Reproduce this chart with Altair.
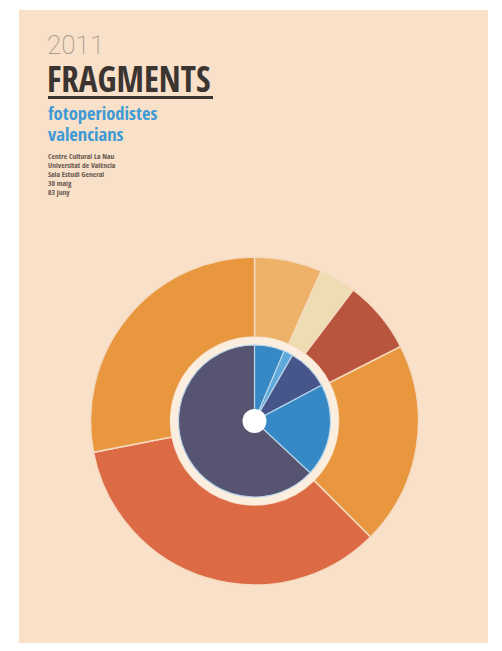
import math
import altair as alt
import pandas as pd

# ---- data ----
outer_cats = ["o1", "o2", "o3", "o4", "o5", "o6"]
outer_vals = [24, 13, 26, 72, 124, 101]
outer_colors = ["#EDB267", "#EEDCB2", "#B9553F", "#E8973F", "#DC6A45", "#E8973F"]

inner_cats = ["i1", "i2", "i3", "i4", "i5"]
inner_vals = [23, 7, 32, 71, 227]
inner_colors = ["#3689C5", "#5DA9DC", "#46558A", "#3689C5", "#575471"]

year_text = "2011"
title_text = "FRAGMENTS"
subtitle_lines = ["fotoperiodistes", "valencians"]
info_lines = ["Centre Cultural La Nau", "Universitat de València",
              "Sala Estudi General", "30 maig", "03 juny"]

# ---- layout ----
W, H = 486, 635
CX, CY = 246.5, 413
BG = "#F8E0C9"
TAU = 2 * math.pi
NARROW = "Open Sans Condensed, Roboto Condensed, DejaVu Sans Condensed, sans-serif"

one = pd.DataFrame({"k": [0]})

bg = alt.Chart(one).mark_rect(color=BG).encode(
    x=alt.value(11), x2=alt.value(480), y=alt.value(2), y2=alt.value(H)
)

outer_df = pd.DataFrame({"cat": outer_cats, "value": outer_vals,
                         "idx": list(range(len(outer_cats)))})
outer = alt.Chart(outer_df).mark_arc(
    radius=164, radius2=84, stroke="#F6DAC0", strokeWidth=1.5
).encode(
    theta=alt.Theta("value:Q", stack=True),
    order=alt.Order("idx:Q"),
    color=alt.Color("cat:N", scale=alt.Scale(domain=outer_cats, range=outer_colors), legend=None),
    x=alt.value(CX), y=alt.value(CY),
)

ring = alt.Chart(one).mark_arc(
    radius=84, radius2=74, theta=0, theta2=TAU, color="#FCEEDF"
).encode(x=alt.value(CX), y=alt.value(CY))

inner_df = pd.DataFrame({"cat": inner_cats, "value": inner_vals,
                         "idx": list(range(len(inner_cats)))})
inner = alt.Chart(inner_df).mark_arc(
    radius=76, radius2=0, stroke="#B9D6EA", strokeWidth=1.2
).encode(
    theta=alt.Theta("value:Q", stack=True),
    order=alt.Order("idx:Q"),
    color=alt.Color("cat:N", scale=alt.Scale(domain=inner_cats, range=inner_colors), legend=None),
    x=alt.value(CX), y=alt.value(CY),
)

hole = alt.Chart(one).mark_arc(
    radius=12, theta=0, theta2=TAU, color="#FFFFFF"
).encode(x=alt.value(CX), y=alt.value(CY))

year = alt.Chart(one).mark_text(
    text=year_text, align="left", baseline="alphabetic", font="Roboto",
    fontSize=26, fontWeight=200, color="#AE9D90"
).encode(x=alt.value(39), y=alt.value(46))

title = alt.Chart(one).mark_text(
    text=title_text, align="left", baseline="alphabetic", font=NARROW,
    fontSize=35, fontWeight="bold", color="#3B3431"
).encode(x=alt.value(39), y=alt.value(84))

underline = alt.Chart(one).mark_rule(color="#3B3431", strokeWidth=3).encode(
    x=alt.value(40), x2=alt.value(205), y=alt.value(89.5)
)

subs = [
    alt.Chart(one).mark_text(
        text=t, align="left", baseline="alphabetic", font=NARROW,
        fontSize=18.5, fontWeight="bold", color="#3E9AD5"
    ).encode(x=alt.value(40), y=alt.value(112 + 21 * i))
    for i, t in enumerate(subtitle_lines)
]

info_y = [151, 160, 169, 178, 187]
infos = [
    alt.Chart(one).mark_text(
        text=t, align="left", baseline="alphabetic", font=NARROW,
        fontSize=7.5, fontWeight="bold", color="#66564C"
    ).encode(x=alt.value(40), y=alt.value(info_y[i]))
    for i, t in enumerate(info_lines)
]

chart = alt.layer(bg, outer, ring, inner, hole, year, title, underline, *subs, *infos).properties(
    width=W, height=H, padding=0, background="#FFFFFF"
).resolve_scale(color="independent").configure_view(stroke=None)

chart.save("out.html", embed_options={"renderer": "svg", "actions": False})
